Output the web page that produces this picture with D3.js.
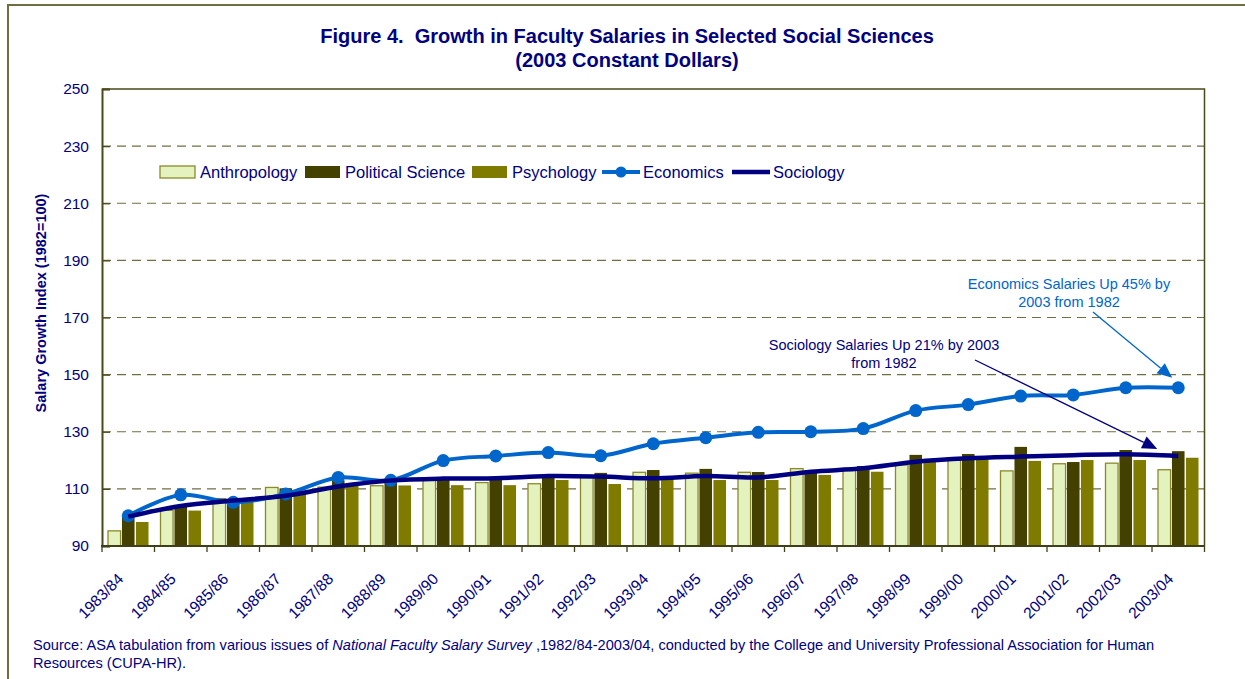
<!DOCTYPE html>
<html>
<head>
<meta charset="utf-8">
<script src="https://cdn.jsdelivr.net/npm/d3@7"></script>
<style>
  body { margin: 0; background: #fff; }
  text { font-family: "Liberation Sans", Arial, sans-serif; }
</style>
</head>
<body>
<div id="chart"></div>
<script>
// data (index, 1982 = 100)
var categories = ['1983/84', '1984/85', '1985/86', '1986/87', '1987/88', '1988/89', '1989/90',
  '1990/91', '1991/92', '1992/93', '1993/94', '1994/95', '1995/96', '1996/97', '1997/98',
  '1998/99', '1999/00', '2000/01', '2001/02', '2002/03', '2003/04'];
var anthropology = [95.3, 102.5, 106.6, 110.5, 110.6, 111.1, 113.3, 112.2, 111.8, 114.0, 115.8,
  115.5, 115.8, 117.1, 116.6, 118.4, 120.1, 116.3, 118.8, 119.0, 116.7];
var politicalScience = [100.8, 104.0, 105.5, 110.2, 113.0, 113.5, 114.0, 114.0, 114.2, 115.6, 116.6,
  117.0, 115.9, 116.5, 118.0, 121.9, 122.2, 124.7, 119.4, 123.6, 123.2];
var psychology = [98.4, 102.4, 105.4, 108.1, 111.4, 111.2, 111.3, 111.3, 113.1, 111.7, 113.8,
  113.1, 113.1, 114.9, 116.0, 119.5, 120.4, 119.8, 120.1, 120.1, 120.9];
var economics = [100.6, 107.9, 105.3, 108.2, 114.0, 113.0, 119.9, 121.5, 122.7, 121.6, 125.8,
  127.9, 129.8, 130.0, 131.1, 137.4, 139.5, 142.5, 142.9, 145.4, 145.4];
var sociology = [100.3, 104.0, 105.9, 107.6, 110.8, 112.9, 113.6, 113.7, 114.5, 114.3, 113.7,
  114.5, 114.0, 116.0, 117.2, 119.5, 120.7, 121.3, 121.8, 122.1, 121.5];
var yTicks = [90, 110, 130, 150, 170, 190, 210, 230, 250];

var barKeys = ['Anthropology', 'Political Science', 'Psychology'];
var barSeries = [anthropology, politicalScience, psychology];
var barFill = ['#e3f2be', '#444000', '#7f7b00'];

var width = 1245, height = 679;
var plot = { left: 102, right: 1204.5, top: 89, bottom: 546 };
var navy = '#000080', econBlue = '#0066cc';

var svg = d3.select('#chart').append('svg')
  .attr('width', width)
  .attr('height', height);

// outer frame of the figure
svg.append('path')
  .attr('d', 'M8,' + height + 'V5H' + width)
  .attr('fill', 'none')
  .attr('stroke', '#6e6e40')
  .attr('stroke-width', 2);

var x = d3.scaleBand().domain(categories).range([plot.left, plot.right]);
var xInner = d3.scaleBand().domain(barKeys).range([6, 46.5]).paddingInner(0.1);
var y = d3.scaleLinear().domain([90, 250]).range([plot.bottom, plot.top]);

// title
svg.append('text')
  .attr('x', 627).attr('y', 43)
  .attr('text-anchor', 'middle')
  .attr('font-size', 20).attr('font-weight', 'bold')
  .attr('fill', navy)
  .text('Figure 4.\u00a0 Growth in Faculty Salaries in Selected Social Sciences');
svg.append('text')
  .attr('x', 627).attr('y', 67)
  .attr('text-anchor', 'middle')
  .attr('font-size', 20).attr('font-weight', 'bold')
  .attr('fill', navy)
  .text('(2003 Constant Dollars)');

// gridlines
svg.append('g')
  .selectAll('line')
  .data(yTicks.filter(function(d) { return d > 90 && d < 250; }))
  .enter().append('line')
  .attr('x1', plot.left).attr('x2', plot.right)
  .attr('y1', function(d) { return y(d); })
  .attr('y2', function(d) { return y(d); })
  .attr('stroke', '#6f6f45')
  .attr('stroke-width', 1.2)
  .attr('stroke-dasharray', '9,6');

// plot border (top + right)
svg.append('path')
  .attr('d', 'M' + plot.left + ',' + plot.top + 'H' + plot.right + 'V' + plot.bottom)
  .attr('fill', 'none')
  .attr('stroke', '#4a4a1a')
  .attr('stroke-width', 1.5);

// bars
var groups = svg.append('g')
  .selectAll('g')
  .data(categories)
  .enter().append('g')
  .attr('transform', function(d) { return 'translate(' + x(d) + ',0)'; });

groups.selectAll('rect')
  .data(function(d, i) {
    return barKeys.map(function(k, j) { return { key: k, j: j, value: barSeries[j][i] }; });
  })
  .enter().append('rect')
  .attr('x', function(d) { return xInner(d.key); })
  .attr('width', xInner.bandwidth())
  .attr('y', function(d) { return y(d.value); })
  .attr('height', function(d) { return y(90) - y(d.value); })
  .attr('fill', function(d) { return barFill[d.j]; })
  .attr('stroke', function(d) { return d.j === 0 ? '#8a8a2a' : 'none'; })
  .attr('stroke-width', 1.3);

// lines
var line = d3.line()
  .x(function(d, i) { return x(categories[i]) + x.bandwidth() / 2; })
  .y(function(d) { return y(d); })
  .curve(d3.curveCatmullRom.alpha(0.5));

svg.append('path')
  .datum(economics)
  .attr('d', line)
  .attr('fill', 'none')
  .attr('stroke', econBlue)
  .attr('stroke-width', 4);

svg.append('g')
  .selectAll('circle')
  .data(economics)
  .enter().append('circle')
  .attr('cx', function(d, i) { return x(categories[i]) + x.bandwidth() / 2; })
  .attr('cy', function(d) { return y(d); })
  .attr('r', 6.5)
  .attr('fill', econBlue);

svg.append('path')
  .datum(sociology)
  .attr('d', line)
  .attr('fill', 'none')
  .attr('stroke', navy)
  .attr('stroke-width', 4.5);

// y axis
var yAxis = svg.append('g')
  .attr('transform', 'translate(' + plot.left + ',0)')
  .call(d3.axisLeft(y).tickValues(yTicks).tickSize(-8).tickPadding(13));
yAxis.select('.domain').attr('stroke', '#4a4a1a').attr('stroke-width', 2);
yAxis.selectAll('.tick line').attr('stroke', '#4a4a1a').attr('stroke-width', 1.3);
yAxis.selectAll('.tick text')
  .attr('font-size', 15.5)
  .attr('font-family', '"Liberation Sans", Arial, sans-serif')
  .attr('fill', navy);

svg.append('text')
  .attr('transform', 'translate(46,303) rotate(-90)')
  .attr('text-anchor', 'middle')
  .attr('font-size', 14.5).attr('font-weight', 'bold')
  .attr('fill', navy)
  .text('Salary Growth Index (1982=100)');

// x axis
var xAxis = svg.append('g');
xAxis.append('line')
  .attr('x1', plot.left - 1).attr('x2', plot.right)
  .attr('y1', plot.bottom).attr('y2', plot.bottom)
  .attr('stroke', '#3f3f1a').attr('stroke-width', 2);
xAxis.selectAll('.xtick')
  .data(categories.concat(['end']))
  .enter().append('line')
  .attr('class', 'xtick')
  .attr('x1', function(d) { return d === 'end' ? plot.right : x(d); })
  .attr('x2', function(d) { return d === 'end' ? plot.right : x(d); })
  .attr('y1', plot.bottom).attr('y2', plot.bottom + 6)
  .attr('stroke', '#3f3f1a').attr('stroke-width', 1.3);
xAxis.selectAll('.xlabel')
  .data(categories)
  .enter().append('text')
  .attr('class', 'xlabel')
  .attr('text-anchor', 'end')
  .attr('font-size', 15.5)
  .attr('fill', navy)
  .attr('transform', function(d) {
    return 'translate(' + (x(d) + x.bandwidth() / 2 - 4) + ',580) rotate(-45)';
  })
  .text(function(d) { return d; });

// legend
var legend = svg.append('g').attr('font-size', 16.5).attr('fill', navy);
var legendItems = [
  { label: 'Anthropology', x: 160, type: 'bar', j: 0 },
  { label: 'Political Science', x: 305, type: 'bar', j: 1 },
  { label: 'Psychology', x: 472, type: 'bar', j: 2 },
  { label: 'Economics', x: 602, type: 'marker' },
  { label: 'Sociology', x: 732, type: 'line' }
];
legendItems.forEach(function(it) {
  if (it.type === 'bar') {
    legend.append('rect')
      .attr('x', it.x).attr('y', 166)
      .attr('width', 35).attr('height', 12)
      .attr('fill', barFill[it.j])
      .attr('stroke', it.j === 0 ? '#8a8a2a' : 'none')
      .attr('stroke-width', 1.3);
  } else {
    legend.append('line')
      .attr('x1', it.x).attr('x2', it.x + 38)
      .attr('y1', 172).attr('y2', 172)
      .attr('stroke', it.type === 'marker' ? econBlue : navy)
      .attr('stroke-width', it.type === 'marker' ? 4 : 4.5);
    if (it.type === 'marker') {
      legend.append('circle')
        .attr('cx', it.x + 19).attr('cy', 172).attr('r', 5.5)
        .attr('fill', econBlue);
    }
  }
  legend.append('text')
    .attr('x', it.x + (it.type === 'bar' ? 40 : 41)).attr('y', 178)
    .text(it.label);
});

// annotations
var last = categories.length - 1;
var lastX = x(categories[last]) + x.bandwidth() / 2;

function arrow(x1, y1, x2, y2, color) {
  var a = Math.atan2(y2 - y1, x2 - x1), len = 15, half = 6.5;
  svg.append('line')
    .attr('x1', x1).attr('y1', y1)
    .attr('x2', x2 - len * Math.cos(a)).attr('y2', y2 - len * Math.sin(a))
    .attr('stroke', color).attr('stroke-width', 1.3);
  var bx = x2 - len * Math.cos(a), by = y2 - len * Math.sin(a);
  svg.append('path')
    .attr('d', 'M' + x2 + ',' + y2 +
      'L' + (bx + half * Math.sin(a)) + ',' + (by - half * Math.cos(a)) +
      'L' + (bx - half * Math.sin(a)) + ',' + (by + half * Math.cos(a)) + 'Z')
    .attr('fill', color);
}

var econNote = svg.append('text')
  .attr('text-anchor', 'middle').attr('font-size', 14.5).attr('fill', econBlue);
econNote.append('tspan').attr('x', 1069).attr('y', 289).text('Economics Salaries Up 45% by');
econNote.append('tspan').attr('x', 1069).attr('y', 307).text('2003 from 1982');
arrow(1093, 312, lastX - 6, y(economics[last]) - 10, econBlue);

var socNote = svg.append('text')
  .attr('text-anchor', 'middle').attr('font-size', 14.5).attr('fill', navy);
socNote.append('tspan').attr('x', 884).attr('y', 350).text('Sociology Salaries Up 21% by 2003');
socNote.append('tspan').attr('x', 884).attr('y', 368).text('from 1982');
arrow(975, 360, lastX - 21, y(sociology[last]) - 7, navy);

// source note
var source = svg.append('text').attr('font-size', 14.6).attr('fill', navy);
var l1 = source.append('tspan').attr('x', 33).attr('y', 650);
l1.append('tspan').text('Source: ASA tabulation from various issues of ');
l1.append('tspan').attr('font-style', 'italic').text('National Faculty Salary Survey');
l1.append('tspan').text(' ,1982/84-2003/04, conducted by the College and University Professional Association for Human');
source.append('tspan').attr('x', 33).attr('y', 668).text('Resources (CUPA-HR).');
</script>
</body>
</html>
